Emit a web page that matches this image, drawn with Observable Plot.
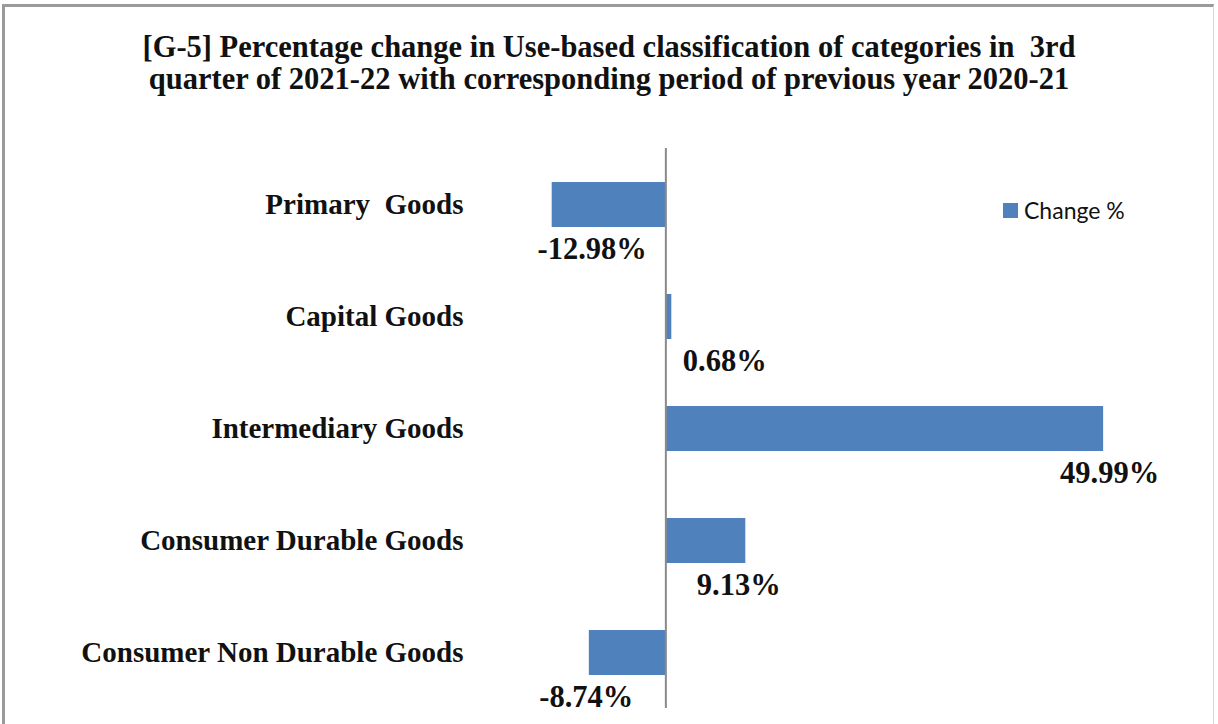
<!DOCTYPE html>
<html>
<head>
<meta charset="utf-8">
<script src="https://cdn.jsdelivr.net/npm/d3@7"></script>
<script src="https://cdn.jsdelivr.net/npm/@observablehq/plot@0.6"></script>
<style>
  html, body { margin: 0; padding: 0; background: #fff; }
  #frame {
    position: absolute; left: 2px; top: 4px; width: 1212px; height: 760px;
    border-left: 3px solid #9a9a9a; border-top: 3px solid #9a9a9a; border-right: 1px solid #d8d8d8;
    box-sizing: border-box;
  }
  #wrap { position: absolute; left: 0; top: 0; width: 1218px; }
  #title {
    height: 110px; box-sizing: border-box; padding-top: 31px;
    text-align: center; font-family: "Liberation Serif", serif; font-weight: bold;
    font-size: 30.5px; line-height: 32px; color: #111; white-space: pre;
  }
  #legend {
    position: absolute; left: 1003px; top: 196px; font-family: Lato, "Open Sans", sans-serif;
    font-size: 23px; color: #111; display: flex; align-items: center;
  }
  #legend .sw { width: 15px; height: 15px; background: #4F81BD; margin-right: 6px; }
</style>
</head>
<body>
<div id="frame"></div>
<div id="wrap">
  <div id="title">[G-5] Percentage change in Use-based classification of categories in  3rd
quarter of 2021-22 with corresponding period of previous year 2020-21</div>
  <div id="chart"></div>
</div>
<div id="legend"><div class="sw"></div><span>Change %</span></div>
<script>
const categories = ["Primary  Goods", "Capital Goods", "Intermediary Goods", "Consumer Durable Goods", "Consumer Non Durable Goods"];
const changes = [-12.98, 0.68, 49.99, 9.13, -8.74];
const labels = ["-12.98%", "0.68%", "49.99%", "9.13%", "-8.74%"];

const data = categories.map((c, i) => ({category: c, value: changes[i], label: labels[i]}));

// label placement offsets (px from bar end), as in the reference
const labelShift = {"Primary  Goods": 40, "Capital Goods": 53, "Intermediary Goods": 6, "Consumer Durable Goods": -7, "Consumer Non Durable Goods": -3};
const pxPerUnit = (1147 - 534) / 70;

const chart = Plot.plot({
  width: 1218,
  height: 614,
  marginTop: 38,
  marginBottom: 16,
  marginLeft: 534,
  marginRight: 71,
  style: {background: "transparent", overflow: "visible"},
  x: {domain: [-15, 55], axis: null},
  y: {domain: categories, paddingInner: 0.6, paddingOuter: 0.3, label: null, tickSize: 0, tickPadding: 71},
  marks: [
    Plot.barX(data, {x: "value", y: "category", fill: "#4F81BD"}),
    Plot.ruleX([0], {stroke: "#8a8a8a", strokeWidth: 2}),
    Plot.axisY({tickSize: 0, tickPadding: 71, fontSize: 29, fontWeight: "bold", fontFamily: "Liberation Serif, serif", fill: "#111"}),
    Plot.text(data, {
      x: d => d.value + labelShift[d.category] / pxPerUnit,
      y: "category", text: "label", dy: 44,
      fontSize: 30.5, fontWeight: "bold", fontFamily: "Liberation Serif, serif", fill: "#111", textAnchor: "middle"
    })
  ]
});
chart.querySelectorAll("text").forEach(t => t.style.whiteSpace = "pre");
document.getElementById("chart").appendChild(chart);
</script>
</body>
</html>
